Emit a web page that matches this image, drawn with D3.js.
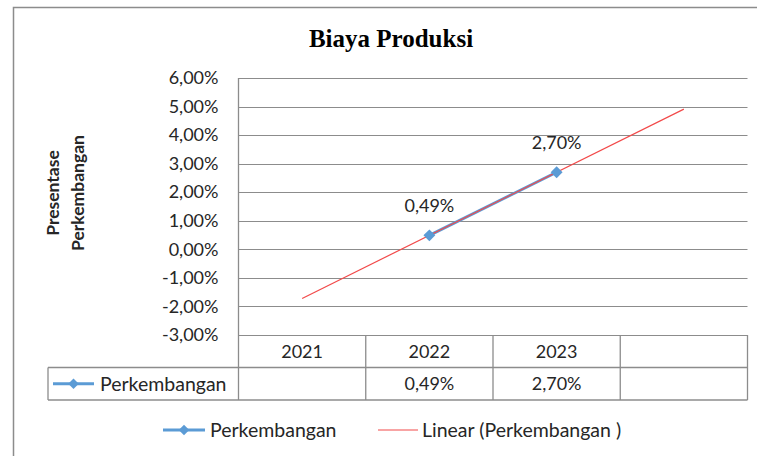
<!DOCTYPE html>
<html>
<head>
<meta charset="utf-8">
<script src="https://cdn.jsdelivr.net/npm/d3@7"></script>
<style>
  body { margin: 0; background: #fff; }
  text { font-family: Lato, "Open Sans", sans-serif; fill: #262626; }
</style>
</head>
<body>
<div id="vis"></div>
<script>
// data
const categories = ["2021", "2022", "2023", ""];
const perkembangan = [null, 0.49, 2.70, null];
const yTicks = [-3, -2, -1, 0, 1, 2, 3, 4, 5, 6];
const seriesName = "Perkembangan";
const trendName = "Linear (Perkembangan )";

const WIDTH = 757, HEIGHT = 456;
const PLOT = { left: 238.5, right: 747.5, top: 78, bottom: 335 };
const ROW_H = 32.5;
const BLUE = "#5b9bd5", RED = "#f24a4a", GRID = "#8c8c8c";

const svg = d3.select("#vis")
    .append("svg")
    .attr("width", WIDTH)
    .attr("height", HEIGHT);

// outer chart frame (cut at right and bottom)
svg.append("path")
    .attr("d", "M13.5," + HEIGHT + "V7.5H" + WIDTH)
    .attr("fill", "none")
    .attr("stroke", GRID)
    .attr("stroke-width", 1.5);

// title
svg.append("text")
    .attr("x", 391)
    .attr("y", 47)
    .attr("text-anchor", "middle")
    .style("font-family", "'Liberation Serif', 'Times New Roman', serif")
    .style("font-weight", "bold")
    .style("font-size", "25px")
    .style("fill", "#000")
    .text("Biaya Produksi");

const X_SCALE = d3.scaleBand()
    .domain(categories)
    .range([PLOT.left, PLOT.right]);

const Y_SCALE = d3.scaleLinear()
    .domain([d3.min(yTicks), d3.max(yTicks)])
    .range([PLOT.bottom, PLOT.top]);

const locale = d3.formatLocale({ decimal: ",", thousands: ".", grouping: [3], currency: ["", ""], minus: "-" });
const fmt = v => locale.format(".2f")(v) + "%";

// gridlines
svg.append("g")
    .selectAll("line")
    .data(yTicks)
    .enter()
    .append("line")
    .attr("x1", PLOT.left)
    .attr("x2", PLOT.right)
    .attr("y1", d => Math.round(Y_SCALE(d)) + 0.5)
    .attr("y2", d => Math.round(Y_SCALE(d)) + 0.5)
    .attr("stroke", GRID)
    .attr("stroke-width", 1);

// y axis labels
const yAxis = svg.append("g")
    .attr("transform", "translate(" + PLOT.left + ",0)")
    .call(d3.axisLeft(Y_SCALE).tickValues(yTicks).tickFormat(fmt).tickSize(0).tickPadding(20));
yAxis.select(".domain").remove();
yAxis.selectAll("text")
    .style("font-family", "Lato, sans-serif")
    .style("font-size", "18px")
    .attr("fill", "#262626");

// y axis title (two lines, rotated)
const yTitle = svg.append("text")
    .attr("transform", "translate(0,193) rotate(-90)")
    .attr("text-anchor", "middle")
    .style("font-weight", "bold")
    .style("font-size", "17.5px");
yTitle.append("tspan").attr("x", 0).attr("y", 59).text("Presentase");
yTitle.append("tspan").attr("x", 0).attr("y", 84).text("Perkembangan");

// data table under the plot
const tableBottom = PLOT.bottom + 2 * ROW_H;
const table = svg.append("g")
    .attr("fill", "none")
    .attr("stroke", GRID)
    .attr("stroke-width", 1.3);

table.append("line")
    .attr("x1", PLOT.left).attr("x2", PLOT.left)
    .attr("y1", PLOT.top).attr("y2", tableBottom);

categories.forEach(c => {
    table.append("line")
        .attr("x1", X_SCALE(c) + X_SCALE.bandwidth())
        .attr("x2", X_SCALE(c) + X_SCALE.bandwidth())
        .attr("y1", PLOT.bottom).attr("y2", tableBottom);
});
table.append("line")
    .attr("x1", 48).attr("x2", PLOT.right)
    .attr("y1", PLOT.bottom + ROW_H).attr("y2", PLOT.bottom + ROW_H);
table.append("line")
    .attr("x1", 48).attr("x2", PLOT.right)
    .attr("y1", tableBottom).attr("y2", tableBottom);
table.append("line")
    .attr("x1", 48).attr("x2", 48)
    .attr("y1", PLOT.bottom + ROW_H).attr("y2", tableBottom);

svg.append("g")
    .selectAll("text")
    .data(categories)
    .enter()
    .append("text")
    .attr("x", d => X_SCALE(d) + X_SCALE.bandwidth() / 2)
    .attr("y", PLOT.bottom + ROW_H / 2)
    .attr("dy", "0.35em")
    .attr("text-anchor", "middle")
    .style("font-size", "18px")
    .text(d => d);

svg.append("g")
    .selectAll("text")
    .data(categories)
    .enter()
    .append("text")
    .attr("x", d => X_SCALE(d) + X_SCALE.bandwidth() / 2)
    .attr("y", PLOT.bottom + ROW_H * 1.5)
    .attr("dy", "0.35em")
    .attr("text-anchor", "middle")
    .style("font-size", "18px")
    .text((d, i) => perkembangan[i] == null ? "" : fmt(perkembangan[i]));

// legend marker helper
function legendKey(g, x, y, color, diamond, w) {
    g.append("line")
        .attr("x1", x).attr("x2", x + w)
        .attr("y1", y).attr("y2", y)
        .attr("stroke", color)
        .attr("stroke-width", diamond ? 3 : 1.2);
    if (diamond) {
        g.append("path")
            .attr("d", d3.symbol(d3.symbolDiamond2, 70)())
            .attr("transform", "translate(" + (x + w / 2) + "," + y + ")")
            .attr("fill", color);
    }
}

const tableKey = svg.append("g");
legendKey(tableKey, 53, PLOT.bottom + ROW_H * 1.5, BLUE, true, 41);
tableKey.append("text")
    .attr("x", 100)
    .attr("y", PLOT.bottom + ROW_H * 1.5)
    .attr("dy", "0.35em")
    .style("font-size", "19.5px")
    .text(seriesName);

// trendline (least squares over the plotted points)
const pts = perkembangan.map((v, i) => [i + 1, v]).filter(p => p[1] != null);
const mx = d3.mean(pts, p => p[0]), my = d3.mean(pts, p => p[1]);
const slope = d3.sum(pts, p => (p[0] - mx) * (p[1] - my)) / d3.sum(pts, p => (p[0] - mx) ** 2);
const icpt = my - slope * mx;
const trend = categories.map((c, i) => ({ c: c, v: icpt + slope * (i + 1) }));
const xc = c => X_SCALE(c) + X_SCALE.bandwidth() / 2;

const line = d3.line()
    .defined(d => d.v != null)
    .x(d => xc(d.c))
    .y(d => Y_SCALE(d.v));

const series = categories.map((c, i) => ({ c: c, v: perkembangan[i] }));

svg.append("path")
    .datum(series)
    .attr("d", line)
    .attr("fill", "none")
    .attr("stroke", BLUE)
    .attr("stroke-width", 3);

svg.append("path")
    .datum([trend[0], trend[trend.length - 1]])
    .attr("d", line)
    .attr("fill", "none")
    .attr("stroke", RED)
    .attr("stroke-width", 1.2);

svg.append("g")
    .selectAll("path")
    .data(series.filter(d => d.v != null))
    .enter()
    .append("path")
    .attr("d", d3.symbol(d3.symbolDiamond2, 90)())
    .attr("transform", d => "translate(" + xc(d.c) + "," + Y_SCALE(d.v) + ")")
    .attr("fill", BLUE);

// data labels
svg.append("g")
    .selectAll("text")
    .data(series.filter(d => d.v != null))
    .enter()
    .append("text")
    .attr("x", d => xc(d.c))
    .attr("y", d => Y_SCALE(d.v) - 23)
    .attr("text-anchor", "middle")
    .style("font-size", "18px")
    .text(d => fmt(d.v));

// bottom legend
const legend = svg.append("g");
legendKey(legend, 163, 430, BLUE, true, 42);
legend.append("text")
    .attr("x", 210).attr("y", 430).attr("dy", "0.35em")
    .style("font-size", "19.5px")
    .text(seriesName);
legendKey(legend, 378, 430, RED, false, 40);
legend.append("text")
    .attr("x", 422).attr("y", 430).attr("dy", "0.35em")
    .style("font-size", "19.5px")
    .text(trendName);
</script>
</body>
</html>
